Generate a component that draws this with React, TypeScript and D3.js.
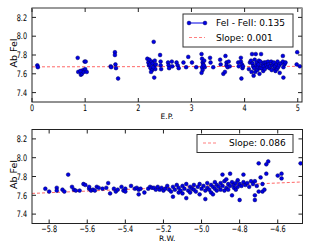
import React, { useEffect, useRef } from 'react';
import * as d3 from 'd3';

// top panel: excitation potential vs abundance
const epValues = [
  0.10, 0.11,
  0.86, 0.87, 0.92, 0.94, 0.96, 0.97, 0.99, 1.01, 1.00, 1.03, 0.91,
  1.48, 1.49, 1.56, 1.56, 1.57, 1.58, 1.62,
  2.17, 2.19, 2.20, 2.21, 2.22, 2.23, 2.25, 2.26, 2.27, 2.29, 2.30, 2.30, 2.31, 2.32, 2.24, 2.28, 2.33,
  2.41, 2.42, 2.42, 2.43, 2.56, 2.57, 2.58,
  2.63, 2.64, 2.72, 2.74, 2.76, 2.85, 2.90, 2.94, 3.01, 3.09,
  3.19, 3.20, 3.21, 3.22, 3.20, 3.21, 3.19, 3.24, 3.25, 3.23,
  3.35, 3.36, 3.41, 3.54, 3.55, 3.60, 3.63, 3.64, 3.66, 3.66, 3.68, 3.70, 3.72, 3.88, 3.89,
  3.93, 3.93, 3.95, 3.96, 3.94, 3.97,
  4.08, 4.10, 4.12, 4.13, 4.14, 4.15, 4.16, 4.17, 4.18, 4.19, 4.20, 4.21, 4.22, 4.23, 4.24, 4.25,
  4.26, 4.27, 4.28, 4.29, 4.30, 4.31, 4.32, 4.33, 4.34, 4.35, 4.36, 4.37, 4.38, 4.40, 4.41, 4.43,
  4.44, 4.45, 4.47, 4.48, 4.50, 4.51, 4.52, 4.53, 4.55, 4.56, 4.57, 4.58, 4.60, 4.61, 4.62, 4.63,
  4.65, 4.66, 4.68, 4.72, 4.72, 4.73, 4.73, 4.75, 4.77,
  4.99, 5.04, 4.98,
];
const abFeEp = [
  7.69, 7.67,
  7.77, 7.62, 7.59, 7.60, 7.64, 7.62, 7.73, 7.73, 7.65, 7.62, 7.63,
  7.68, 7.67, 7.83, 7.80, 7.70, 7.66, 7.55,
  7.76, 7.72, 7.69, 7.75, 7.70, 7.66, 7.73, 7.64, 7.71, 7.94, 7.56, 7.68, 7.74, 7.65, 7.62, 7.67, 7.70,
  7.80, 7.73, 7.69, 7.65, 7.72, 7.69, 7.66,
  7.73, 7.68, 7.72, 7.69, 7.66, 7.72, 7.67, 7.78, 7.72, 7.67,
  7.81, 7.76, 7.72, 7.70, 7.67, 7.64, 7.61, 7.74, 7.67, 7.69,
  7.77, 7.72, 7.67, 7.75, 7.70, 7.60, 7.62, 7.79, 7.72, 7.69, 7.67, 7.73, 7.68, 7.72, 7.68,
  7.77, 7.73, 7.70, 7.66, 7.55, 7.68,
  7.65, 7.72, 7.74, 7.62, 7.81, 7.71, 7.68, 7.58, 7.66, 7.75, 7.62, 7.81, 7.69, 7.72, 7.64, 7.67,
  7.70, 7.74, 7.60, 7.66, 7.73, 7.81, 7.66, 7.69, 7.71, 7.63, 7.68, 7.72, 7.65, 7.72, 7.69, 7.67,
  7.73, 7.70, 7.66, 7.68, 7.73, 7.64, 7.69, 7.71, 7.72, 7.66, 7.68, 7.63, 7.70, 7.65, 7.73, 7.67,
  7.69, 7.61, 7.71, 7.79, 7.73, 7.67, 7.56, 7.70, 7.72,
  7.83, 7.68, 7.70,
];

// bottom panel: reduced width vs abundance
const rwValues = [
  -5.82, -5.80, -5.76, -5.76, -5.73, -5.72, -5.70, -5.68, -5.67, -5.66, -5.64, -5.62, -5.61, -5.59,
  -5.58, -5.59, -5.57, -5.56, -5.55, -5.54, -5.52, -5.50, -5.49, -5.48, -5.46, -5.45, -5.44, -5.42,
  -5.41, -5.40, -5.40, -5.37, -5.35, -5.34, -5.33, -5.33, -5.32, -5.30, -5.28, -5.27, -5.26, -5.25,
  -5.24, -5.23, -5.22, -5.21, -5.20, -5.19, -5.18, -5.17, -5.16, -5.15, -5.15, -5.14, -5.13, -5.12,
  -5.12, -5.11, -5.10, -5.10, -5.09, -5.08, -5.08, -5.07, -5.06, -5.06, -5.05, -5.04, -5.04, -5.03,
  -5.02, -5.01, -5.01, -5.00, -4.99, -4.98, -4.98, -4.97, -4.97, -4.96, -4.95, -4.95, -4.94, -4.94,
  -4.93, -4.93, -4.92, -4.92, -4.91, -4.90, -4.90, -4.89, -4.89, -4.88, -4.88, -4.87, -4.87, -4.86,
  -4.86, -4.85, -4.85, -4.84, -4.84, -4.83, -4.83, -4.82, -4.82, -4.81, -4.81, -4.80, -4.80, -4.79,
  -4.78, -4.78, -4.77, -4.76, -4.75, -4.74, -4.73, -4.72, -4.72, -4.72, -4.71, -4.70, -4.70, -4.69,
  -4.68, -4.68, -4.67, -4.66, -4.66, -4.65, -4.60, -4.58, -4.58, -4.48,
];
const abFeRw = [
  7.67, 7.64, 7.68, 7.65, 7.66, 7.64, 7.82, 7.69, 7.66, 7.65, 7.65, 7.72, 7.71, 7.67,
  7.65, 7.69, 7.66, 7.65, 7.69, 7.68, 7.67, 7.68, 7.73, 7.62, 7.67, 7.64, 7.66, 7.69,
  7.65, 7.67, 7.64, 7.70, 7.67, 7.68, 7.66, 7.61, 7.67, 7.63, 7.67, 7.69, 7.68, 7.68,
  7.66, 7.69, 7.66, 7.68, 7.65, 7.67, 7.70, 7.66, 7.64, 7.585, 7.69, 7.66, 7.71, 7.63,
  7.68, 7.65, 7.70, 7.62, 7.67, 7.57, 7.72, 7.65, 7.69, 7.63, 7.67, 7.71, 7.66, 7.64,
  7.69, 7.72, 7.61, 7.67, 7.70, 7.56, 7.65, 7.73, 7.68, 7.66, 7.71, 7.63, 7.61, 7.69,
  7.74, 7.67, 7.65, 7.71, 7.69, 7.73, 7.66, 7.82, 7.70, 7.65, 7.75, 7.77, 7.68, 7.72,
  7.66, 7.83, 7.70, 7.60, 7.74, 7.68, 7.71, 7.66, 7.73, 7.69, 7.76, 7.55, 7.72, 7.70,
  7.82, 7.74, 7.71, 7.73, 7.69, 7.75, 7.72, 7.75, 7.60, 7.55, 7.70, 7.94, 7.64, 7.79,
  7.64, 7.72, 7.66, 7.83, 7.93, 7.96, 7.81, 7.83, 7.78, 7.94,
];

const yTicks = [7.4, 7.6, 7.8, 8.0, 8.2];
const epTicks = [0, 1, 2, 3, 4, 5];
const rwTicks = [-5.8, -5.6, -5.4, -5.2, -5.0, -4.8, -4.6];

// fitted lines (value at domain start, slope)
const epFit = { y0: 7.674, slope: 0.001 };
const rwFit = { y0: 7.62, slope: 0.086 };
const legendTop = ['FeI - FeII: 0.135', 'Slope: 0.001'];
const legendBottom = ['Slope: 0.086'];

const W = 312, H = 250;
const FONT = 'DejaVu Sans, sans-serif';

const App = () => {
  const ref = useRef(null);

  useEffect(() => {
    const svg = d3.select(ref.current);
    svg.selectAll('*').remove();

    // tick labels in the original look horizontally squeezed
    const tickText = (g, x, y, anchor, label) =>
      g.append('text')
        .attr('transform', `translate(${x},${y}) scale(0.72,1)`)
        .attr('text-anchor', anchor).attr('font-size', 9).attr('font-family', FONT)
        .text(label);

    const panel = (opts) => {
      const { top, bottom, left, right, xDomain, xTicks, xFmt, xs, ys, fit, xLabel, legend, topSpineGray } = opts;
      const x = d3.scaleLinear().domain(xDomain).range([left, right]);
      const y = d3.scaleLinear().domain([7.3, 8.3]).range([bottom, top]);
      const g = svg.append('g');

      // fit line
      g.append('line')
        .attr('x1', x(xDomain[0])).attr('x2', x(xDomain[1]))
        .attr('y1', y(fit.y0))
        .attr('y2', y(fit.y0 + fit.slope * (xDomain[1] - xDomain[0])))
        .attr('stroke', '#ff0000').attr('stroke-opacity', 0.6)
        .attr('stroke-width', 1).attr('stroke-dasharray', '3,2');

      g.append('g').selectAll('circle')
        .data(xs.map((d, i) => [d, ys[i]]))
        .join('circle')
          .attr('cx', d => x(d[0]))
          .attr('cy', d => y(d[1]))
          .attr('r', 1.9)
          .attr('fill', '#0000e6')
          .attr('stroke', '#000060')
          .attr('stroke-width', 0.5);

      // frame
      g.append('rect')
        .attr('x', left).attr('y', top)
        .attr('width', right - left).attr('height', bottom - top)
        .attr('fill', 'none').attr('stroke', '#222').attr('stroke-width', 1);
      if (topSpineGray) {
        g.append('line').attr('x1', left).attr('x2', right).attr('y1', top).attr('y2', top)
          .attr('stroke', '#999').attr('stroke-width', 2);
      }

      // ticks on all sides, inward
      const fmtY = d3.format('.1f');
      yTicks.forEach(t => {
        g.append('line').attr('x1', left).attr('x2', left + 4).attr('y1', y(t)).attr('y2', y(t)).attr('stroke', '#222');
        g.append('line').attr('x1', right).attr('x2', right - 4).attr('y1', y(t)).attr('y2', y(t)).attr('stroke', '#222');
        tickText(g, left - 5, y(t) + 3.2, 'end', fmtY(t));
      });
      xTicks.forEach(t => {
        g.append('line').attr('x1', x(t)).attr('x2', x(t)).attr('y1', bottom).attr('y2', bottom - 4).attr('stroke', '#222');
        g.append('line').attr('x1', x(t)).attr('x2', x(t)).attr('y1', top).attr('y2', top + 4).attr('stroke', '#222');
        tickText(g, x(t), bottom + 8.5, 'middle', xFmt(t));
      });

      g.append('text').attr('x', (left + right) / 2).attr('y', bottom + 17)
        .attr('text-anchor', 'middle').attr('font-size', 7.5).attr('font-family', FONT).text(xLabel);
      g.append('text')
        .attr('transform', `translate(17,${(top + bottom) / 2 - 2}) rotate(-90)`)
        .attr('text-anchor', 'middle').attr('font-size', 9.5).attr('font-family', FONT).text('Ab FeI');

      // legend
      const lg = g.append('g').attr('transform', `translate(${legend.x},${legend.y})`);
      lg.append('rect').attr('width', legend.w).attr('height', legend.h)
        .attr('fill', 'white').attr('stroke', '#333').attr('stroke-width', 1);
      legend.items.forEach((it, i) => {
        const cy = legend.rowY[i];
        if (it.kind === 'marker') {
          lg.append('line').attr('x1', legend.sx).attr('x2', legend.sx + legend.sw)
            .attr('y1', cy).attr('y2', cy).attr('stroke', '#0000e6').attr('stroke-width', 1);
          [legend.sx, legend.sx + legend.sw].forEach(px => {
            lg.append('circle').attr('cx', px).attr('cy', cy).attr('r', 1.9)
              .attr('fill', '#0000e6').attr('stroke', '#000060').attr('stroke-width', 0.5);
          });
        } else {
          lg.append('line').attr('x1', legend.sx).attr('x2', legend.sx + legend.sw)
            .attr('y1', cy).attr('y2', cy).attr('stroke', '#ff0000').attr('stroke-opacity', 0.5)
            .attr('stroke-dasharray', '3,2');
        }
        lg.append('text').attr('x', legend.tx).attr('y', cy).attr('dy', '0.35em')
          .attr('font-size', 9).attr('font-family', FONT).text(it.label);
      });
    };

    panel({
      top: 8, bottom: 102, left: 32, right: 302,
      xDomain: [0, 5.08], xTicks: epTicks, xFmt: d3.format('d'),
      xs: epValues, ys: abFeEp, fit: epFit, xLabel: 'E.P.', topSpineGray: true,
      legend: {
        x: 183, y: 14, w: 110, h: 33, sx: 6, sw: 16, tx: 33, rowY: [9, 23.5],
        items: [{ kind: 'marker', label: legendTop[0] }, { kind: 'dash', label: legendTop[1] }],
      },
    });

    panel({
      top: 129.5, bottom: 223.5, left: 32, right: 302.5,
      xDomain: [-5.89, -4.47], xTicks: rwTicks, xFmt: d3.format('.1f'),
      xs: rwValues, ys: abFeRw, fit: rwFit, xLabel: 'R.W.',
      legend: {
        x: 197, y: 134.5, w: 96, h: 18, sx: 6, sw: 13, tx: 32, rowY: [8.5],
        items: [{ kind: 'dash', label: legendBottom[0] }],
      },
    });
  }, []);

  return (
    <div style={{ position: 'absolute', left: 0, top: 0 }}>
      <svg ref={ref} width={W} height={H} style={{ display: 'block', background: 'white' }}></svg>
    </div>
  );
};

export default App;
